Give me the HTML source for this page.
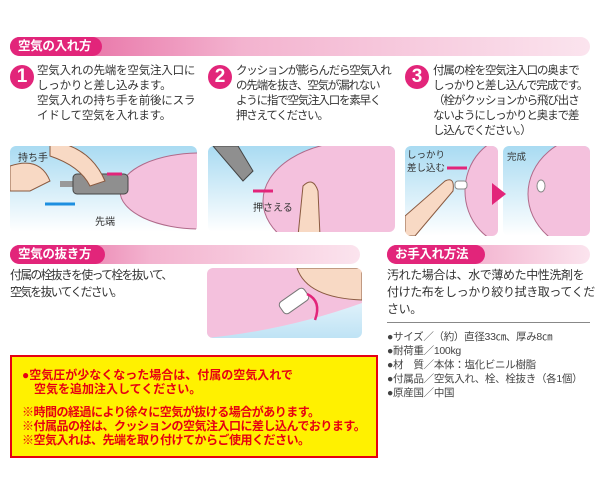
<!DOCTYPE html>
<html><head><meta charset="utf-8"><style>
*{margin:0;padding:0;box-sizing:border-box}
body{width:600px;height:500px;background:#fff;position:relative;overflow:hidden;font-family:"Liberation Sans","Noto Sans CJK JP",sans-serif;color:#333}
.a{position:absolute}
.bar{position:absolute;height:19px;border-radius:10px;background:linear-gradient(90deg,#e45a97 0%,#f3b3cf 40%,#fbe4ee 100%)}
.lab{position:absolute;height:19px;border-radius:10px;background:#e2257a;color:#fff;font-weight:bold;font-size:12.5px;line-height:19px;padding-left:8px;letter-spacing:-0.3px}
.num{position:absolute;width:24px;height:24px;border-radius:12px;background:#e2257a;color:#fff;font-weight:bold;font-size:19px;line-height:24px;text-align:center}
.t{position:absolute;font-size:11.5px;line-height:15px;color:#333;white-space:nowrap}
.img{position:absolute;border-radius:6px;overflow:hidden}
.r{color:#e60012;font-weight:bold;font-size:12px;line-height:14px;white-space:nowrap}
.s{font-size:10.5px;line-height:14px;white-space:nowrap;color:#444;letter-spacing:-0.3px}
</style></head><body>
<div class="bar" style="left:10px;top:37px;width:580px"></div>
<div class="lab" style="left:10px;top:37px;width:92px">空気の入れ方</div>

<div class="num" style="left:10px;top:65px">1</div>
<div class="t" style="left:37px;top:64px;letter-spacing:-0.2px">空気入れの先端を空気注入口に<br>しっかりと差し込みます。<br>空気入れの持ち手を前後にスラ<br>イドして空気を入れます。</div>
<div class="num" style="left:208px;top:65px">2</div>
<div class="t" style="left:236px;top:64px;letter-spacing:-1.2px">クッションが膨らんだら空気入れ<br>の先端を抜き、空気が漏れない<br>ように指で空気注入口を素早く<br>押さえてください。</div>
<div class="num" style="left:405px;top:65px">3</div>
<div class="t" style="left:433px;top:64px;letter-spacing:-1.1px">付属の栓を空気注入口の奥まで<br>しっかりと差し込んで完成です。<br>（栓がクッションから飛び出さ<br>ないようにしっかりと奥まで差<br>し込んでください。）</div>

<!-- panel 1 -->
<div class="img" style="left:10px;top:146px;width:187px;height:86px;background:linear-gradient(180deg,#a9dbf2,#ffffff)">
<svg width="187" height="86"><ellipse cx="190" cy="45" rx="80" ry="38" fill="#f4c1dd" stroke="#b06a8a"/>
<path d="M0 20 Q30 10 40 35 L20 45 L0 45Z" fill="#f8d9c4" stroke="#8a5a40"/>
<rect x="50" y="35" width="30" height="6" fill="#999"/>
<rect x="63" y="28" width="55" height="20" rx="4" fill="#8f8f8f" stroke="#444"/>
<path d="M40 -5 Q80 0 95 35 L80 40 Q70 20 40 10Z" fill="#f8d9c4" stroke="#8a5a40"/>
<path d="M35 58 L65 58" stroke="#1d8fe0" stroke-width="3"/>
<path d="M97 28 L112 28" stroke="#e2257a" stroke-width="3"/>
<text x="8" y="15" font-size="10" fill="#333">持ち手</text>
<text x="85" y="79" font-size="10" fill="#333">先端</text></svg></div>
<!-- panel 2 -->
<div class="img" style="left:208px;top:146px;width:187px;height:86px;background:linear-gradient(180deg,#a9dbf2,#ffffff)">
<svg width="187" height="86"><ellipse cx="150" cy="55" rx="95" ry="60" fill="#f4c1dd" stroke="#b06a8a"/>
<path d="M5 0 L30 0 L45 25 L35 35Z" fill="#8f8f8f" stroke="#444"/>
<path d="M90 90 L95 40 Q105 30 110 45 L112 90Z" fill="#f8d9c4" stroke="#8a5a40"/>
<path d="M45 45 L65 45" stroke="#e2257a" stroke-width="3"/>
<text x="45" y="65" font-size="10" fill="#333">押さえる</text></svg></div>
<!-- panel 3 -->
<div class="img" style="left:405px;top:146px;width:93px;height:90px;background:linear-gradient(180deg,#a9dbf2,#ffffff)">
<svg width="93" height="90"><ellipse cx="110" cy="45" rx="50" ry="55" fill="#f4c1dd" stroke="#b06a8a"/>
<path d="M0 70 L40 35 Q50 30 48 45 L10 90 L0 90Z" fill="#f8d9c4" stroke="#8a5a40"/>
<rect x="50" y="35" width="12" height="8" rx="3" fill="#fff" stroke="#888"/>
<path d="M42 22 L62 22" stroke="#e2257a" stroke-width="3"/>
<text x="2" y="12" font-size="9.5" fill="#333">しっかり</text>
<text x="2" y="25" font-size="9.5" fill="#333">差し込む</text></svg></div>
<div class="img" style="left:503px;top:146px;width:87px;height:90px;background:linear-gradient(180deg,#a9dbf2,#ffffff)">
<svg width="87" height="90"><ellipse cx="95" cy="48" rx="70" ry="60" fill="#f4c1dd" stroke="#b06a8a"/>
<ellipse cx="38" cy="40" rx="4" ry="6" fill="#fff" stroke="#888"/>
<text x="4" y="14" font-size="9.5" fill="#333">完成</text></svg></div>
<div class="a" style="left:492px;top:183px;width:0;height:0;border-top:11px solid transparent;border-bottom:11px solid transparent;border-left:14px solid #e2257a"></div>

<div class="bar" style="left:10px;top:245px;width:350px"></div>
<div class="lab" style="left:10px;top:245px;width:95px">空気の抜き方</div>
<div class="t" style="left:10px;top:267px;font-size:11.8px;line-height:17px;letter-spacing:-1.6px">付属の栓抜きを使って栓を抜いて、<br>空気を抜いてください。</div>
<div class="img" style="left:207px;top:268px;width:155px;height:70px;background:linear-gradient(180deg,#fff,#bfe3f5)">
<svg width="155" height="70"><path d="M0 0 L155 0 L155 35 Q80 62 0 70Z" fill="#f4c1dd"/>
<path d="M90 0 Q100 30 155 32 L155 0Z" fill="#f8d9c4" stroke="#8a5a40"/>
<rect x="72" y="26" width="30" height="14" rx="4" fill="#fff" stroke="#777" transform="rotate(-35 87 33)"/>
<path d="M100 26 Q115 33 108 52" stroke="#e2257a" stroke-width="2.5" fill="none"/></svg></div>

<div class="bar" style="left:387px;top:245px;width:203px"></div>
<div class="lab" style="left:387px;top:245px;width:98px">お手入れ方法</div>
<div class="t" style="left:387px;top:267px;font-size:12px;line-height:17px;letter-spacing:-0.4px">汚れた場合は、水で薄めた中性洗剤を<br>付けた布をしっかり絞り拭き取ってくだ<br>さい。</div>
<div class="a" style="left:387px;top:322px;width:203px;height:1px;background:#888"></div>
<div class="a s" style="left:387px;top:330px">●サイズ／（約）直径33㎝、厚み8㎝<br>●耐荷重／100kg<br>●材　質／本体：塩化ビニル樹脂<br>●付属品／空気入れ、栓、栓抜き（各1個）<br>●原産国／中国</div>

<div class="a" style="left:10px;top:355px;width:368px;height:103px;background:#fff100;border:2px solid #e60012"></div>
<div class="a r" style="left:22px;top:368px">●空気圧が少なくなった場合は、付属の空気入れで<br>　空気を追加注入してください。</div>
<div class="a r" style="left:22px;top:405px;letter-spacing:-0.5px">※時間の経過により徐々に空気が抜ける場合があります。<br>※付属品の栓は、クッションの空気注入口に差し込んでおります。<br>※空気入れは、先端を取り付けてからご使用ください。</div>
</body></html>
